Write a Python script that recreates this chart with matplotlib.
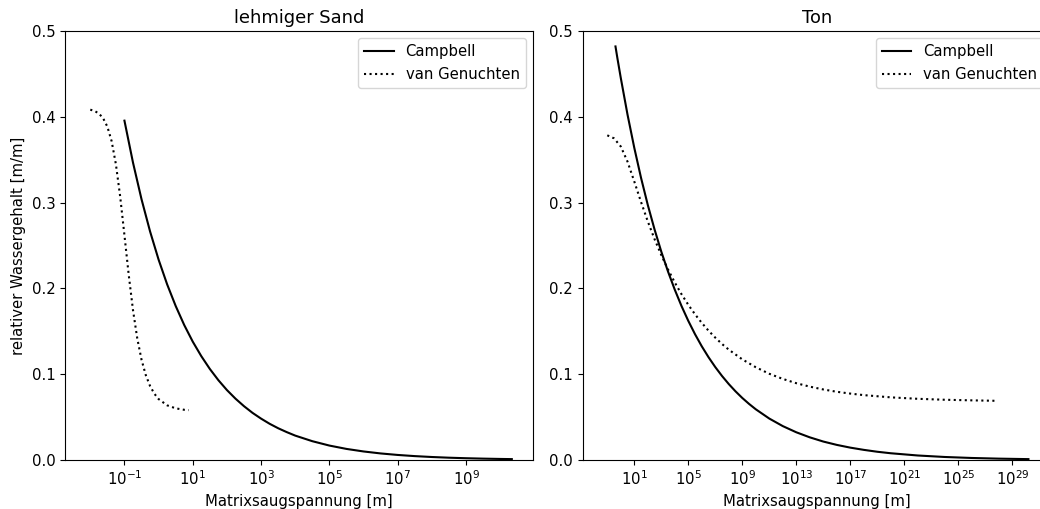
import numpy as np
import matplotlib
matplotlib.use('Agg')
import matplotlib.pyplot as plt

plt.rcParams['font.size'] = 10.7

# lehmiger Sand - Campbell (x als Zehnerexponent, y Wassergehalt)
sand_camp_exp = [-1.0, -0.75, -0.5, -0.25, 0.0, 0.25, 0.5, 0.75, 1.0, 1.25, 1.5, 1.75, 2.0,
                 2.25, 2.5, 2.75, 3.0, 3.25, 3.5, 3.75, 4.0, 4.5, 5.0, 5.5, 6.0, 6.5, 7.0,
                 7.5, 8.0, 8.5, 9.0, 9.5, 10.0, 10.34]
sand_camp_theta = [0.3955, 0.3467, 0.3039, 0.2664, 0.2335, 0.2047, 0.1795, 0.1573, 0.1379,
                   0.1210, 0.1061, 0.0930, 0.0815, 0.0715, 0.0627, 0.0549, 0.0482, 0.0422,
                   0.0370, 0.0325, 0.0284, 0.0219, 0.0168, 0.0129, 0.00993, 0.00763, 0.00587,
                   0.00451, 0.00347, 0.00266, 0.00205, 0.00157, 0.00121, 0.00101]

# lehmiger Sand - van Genuchten
sand_vg_exp = [-2.0, -1.875, -1.75, -1.625, -1.5, -1.375, -1.25, -1.125, -1.0, -0.875, -0.75,
               -0.625, -0.5, -0.375, -0.25, -0.125, 0.0, 0.25, 0.5, 0.75, 0.88]
sand_vg_theta = [0.4083, 0.4068, 0.4039, 0.3984, 0.3885, 0.3716, 0.3447, 0.3071, 0.2620,
                 0.2159, 0.1748, 0.1418, 0.1169, 0.0989, 0.0862, 0.0773, 0.0710, 0.0637,
                 0.0602, 0.0585, 0.0581]

# Ton - Campbell
ton_camp_exp = [-0.3925, -0.25, 0.0, 0.5, 1.0, 1.5, 2.0, 2.5, 3.0, 3.5, 4.0, 4.5, 5.0, 5.5,
                6.0, 6.5, 7.0, 7.5, 8.0, 8.5, 9.0, 9.5, 10.0, 11.0, 12.0, 13.0, 14.0, 15.0,
                16.0, 17.0, 18.0, 19.0, 20.0, 22.0, 24.0, 26.0, 28.0, 30.2]
ton_camp_theta = [0.482, 0.4683, 0.4453, 0.4025, 0.3639, 0.3289, 0.2973, 0.2688, 0.2429,
                  0.2196, 0.1985, 0.1794, 0.1622, 0.1466, 0.1325, 0.1198, 0.1083, 0.0979,
                  0.0885, 0.0800, 0.0723, 0.0654, 0.0591, 0.0483, 0.0395, 0.0323, 0.0264,
                  0.0215, 0.0176, 0.0144, 0.0118, 0.0096, 0.00785, 0.00524, 0.00350,
                  0.00234, 0.00156, 0.00100]

# Ton - van Genuchten
ton_vg_exp = [-1.0, -0.5, 0.0, 0.5, 1.0, 1.5, 2.0, 2.5, 3.0, 3.5, 4.0, 4.5, 5.0, 5.5, 6.0,
              6.5, 7.0, 7.5, 8.0, 9.0, 10.0, 11.0, 12.0, 13.0, 14.0, 15.0, 16.0, 17.0, 18.0,
              20.0, 22.0, 24.0, 26.0, 27.7]
ton_vg_theta = [0.3784, 0.3749, 0.3654, 0.3477, 0.3246, 0.3007, 0.2781, 0.2575, 0.2389,
                0.2221, 0.2069, 0.1932, 0.1809, 0.1698, 0.1598, 0.1507, 0.1426, 0.1352,
                0.1286, 0.1173, 0.1081, 0.1005, 0.0945, 0.0895, 0.0855, 0.0822, 0.0795,
                0.0774, 0.0756, 0.0730, 0.0713, 0.0702, 0.0695, 0.0690]

panels = [
    ('lehmiger Sand', sand_camp_exp, sand_camp_theta, sand_vg_exp, sand_vg_theta, (-2.74, 10.96)),
    ('Ton', ton_camp_exp, ton_camp_theta, ton_vg_exp, ton_vg_theta, (-2.82, 31.85)),
]

fig = plt.figure(figsize=(10.4, 5.09), dpi=100)
ax1 = fig.add_axes([0.0625, 0.0963, 0.45, 0.8428])
ax2 = fig.add_axes([0.5603, 0.0963, 0.45, 0.8428])

for ax, (title, ce, ct, ve, vt, xr) in zip([ax1, ax2], panels):
    ax.plot(10.0 ** np.array(ce), ct, color='k', linestyle='-', label='Campbell')
    ax.plot(10.0 ** np.array(ve), vt, color='k', linestyle=':', label='van Genuchten')
    ax.set_xscale('log')
    ax.set_xlim(10.0 ** xr[0], 10.0 ** xr[1])
    ax.set_ylim(0, 0.5)
    ax.set_title(title)
    ax.set_xlabel('Matrixsaugspannung [m]')
    ax.legend(loc='upper right')

ax1.set_ylabel('relativer Wassergehalt [m/m]')

fig.savefig('out.png', dpi=100)
